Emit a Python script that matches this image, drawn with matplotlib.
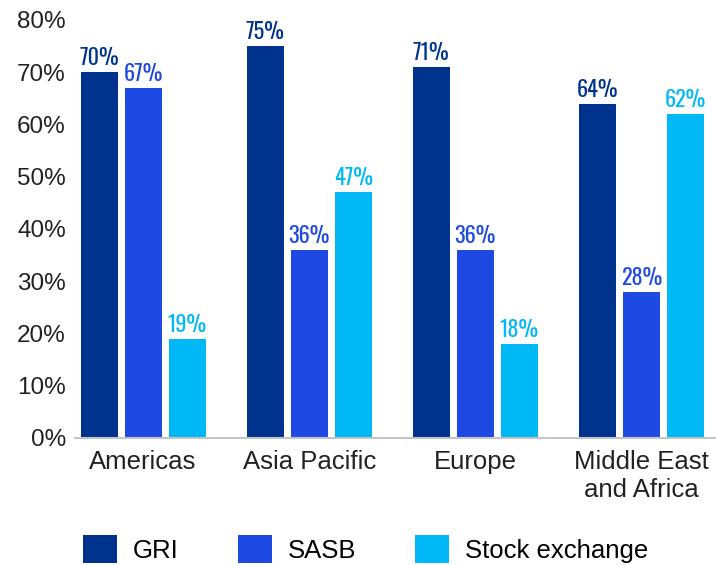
import numpy as np
import matplotlib.pyplot as plt
from matplotlib import font_manager

names = {f.name for f in font_manager.fontManager.ttflist}
label_fam = [f for f in ['Oswald', 'Liberation Sans Narrow'] if f in names] + ['Liberation Sans', 'DejaVu Sans']

regions = ['Americas', 'Asia Pacific', 'Europe', 'Middle East\nand Africa']
gri = [70, 75, 71, 64]
sasb = [67, 36, 36, 28]
stock = [19, 47, 18, 62]
series = ['GRI', 'SASB', 'Stock exchange']
colors = ['#00338D', '#1E49E2', '#00B8F5']
yticks = [0, 10, 20, 30, 40, 50, 60, 70, 80]

plt.rcParams['font.family'] = ['Liberation Sans', 'DejaVu Sans']

fig = plt.figure(figsize=(7.16, 5.65), dpi=100)
ax = fig.add_axes([75 / 716, 1 - 438 / 565, 1 - 75 / 716, 418 / 565])

x = np.arange(len(regions))
w = 0.223
off = 0.265
for i, (vals, c, name) in enumerate(zip([gri, sasb, stock], colors, series)):
    pos = x + (i - 1) * off
    ax.bar(pos, vals, width=w, color=c, label=name)
    for p, v in zip(pos, vals):
        ax.text(p, v + 1.35, f'{v}%', ha='center', va='baseline', color=c,
                fontsize=16, fontweight='bold', family=label_fam)

ax.set_xlim(-0.41, 3.45)
ax.set_ylim(0, 80)
ax.set_yticks(yticks)
ax.set_yticklabels([f'{t}%' for t in yticks], fontsize=17.5, color='#222222')
ax.set_xticks(x)
ax.set_xticklabels(regions, fontsize=18.5, color='#222222', linespacing=1.22)
ax.tick_params(length=0)
ax.tick_params(axis='y', pad=6.5)
ax.tick_params(axis='x', pad=8.5)
for s in ['top', 'right', 'left']:
    ax.spines[s].set_visible(False)
ax.spines['bottom'].set_color('#C4C4C4')
ax.spines['bottom'].set_linewidth(1.5)

fig.legend(loc='center left', bbox_to_anchor=(83 / 716, 1 - 549 / 565), ncol=3,
           frameon=False, fontsize=18.5, handlelength=1.32, handleheight=1.28,
           columnspacing=2.3, handletextpad=0.62, borderpad=0, borderaxespad=0)

fig.savefig('out.png', dpi=100)
